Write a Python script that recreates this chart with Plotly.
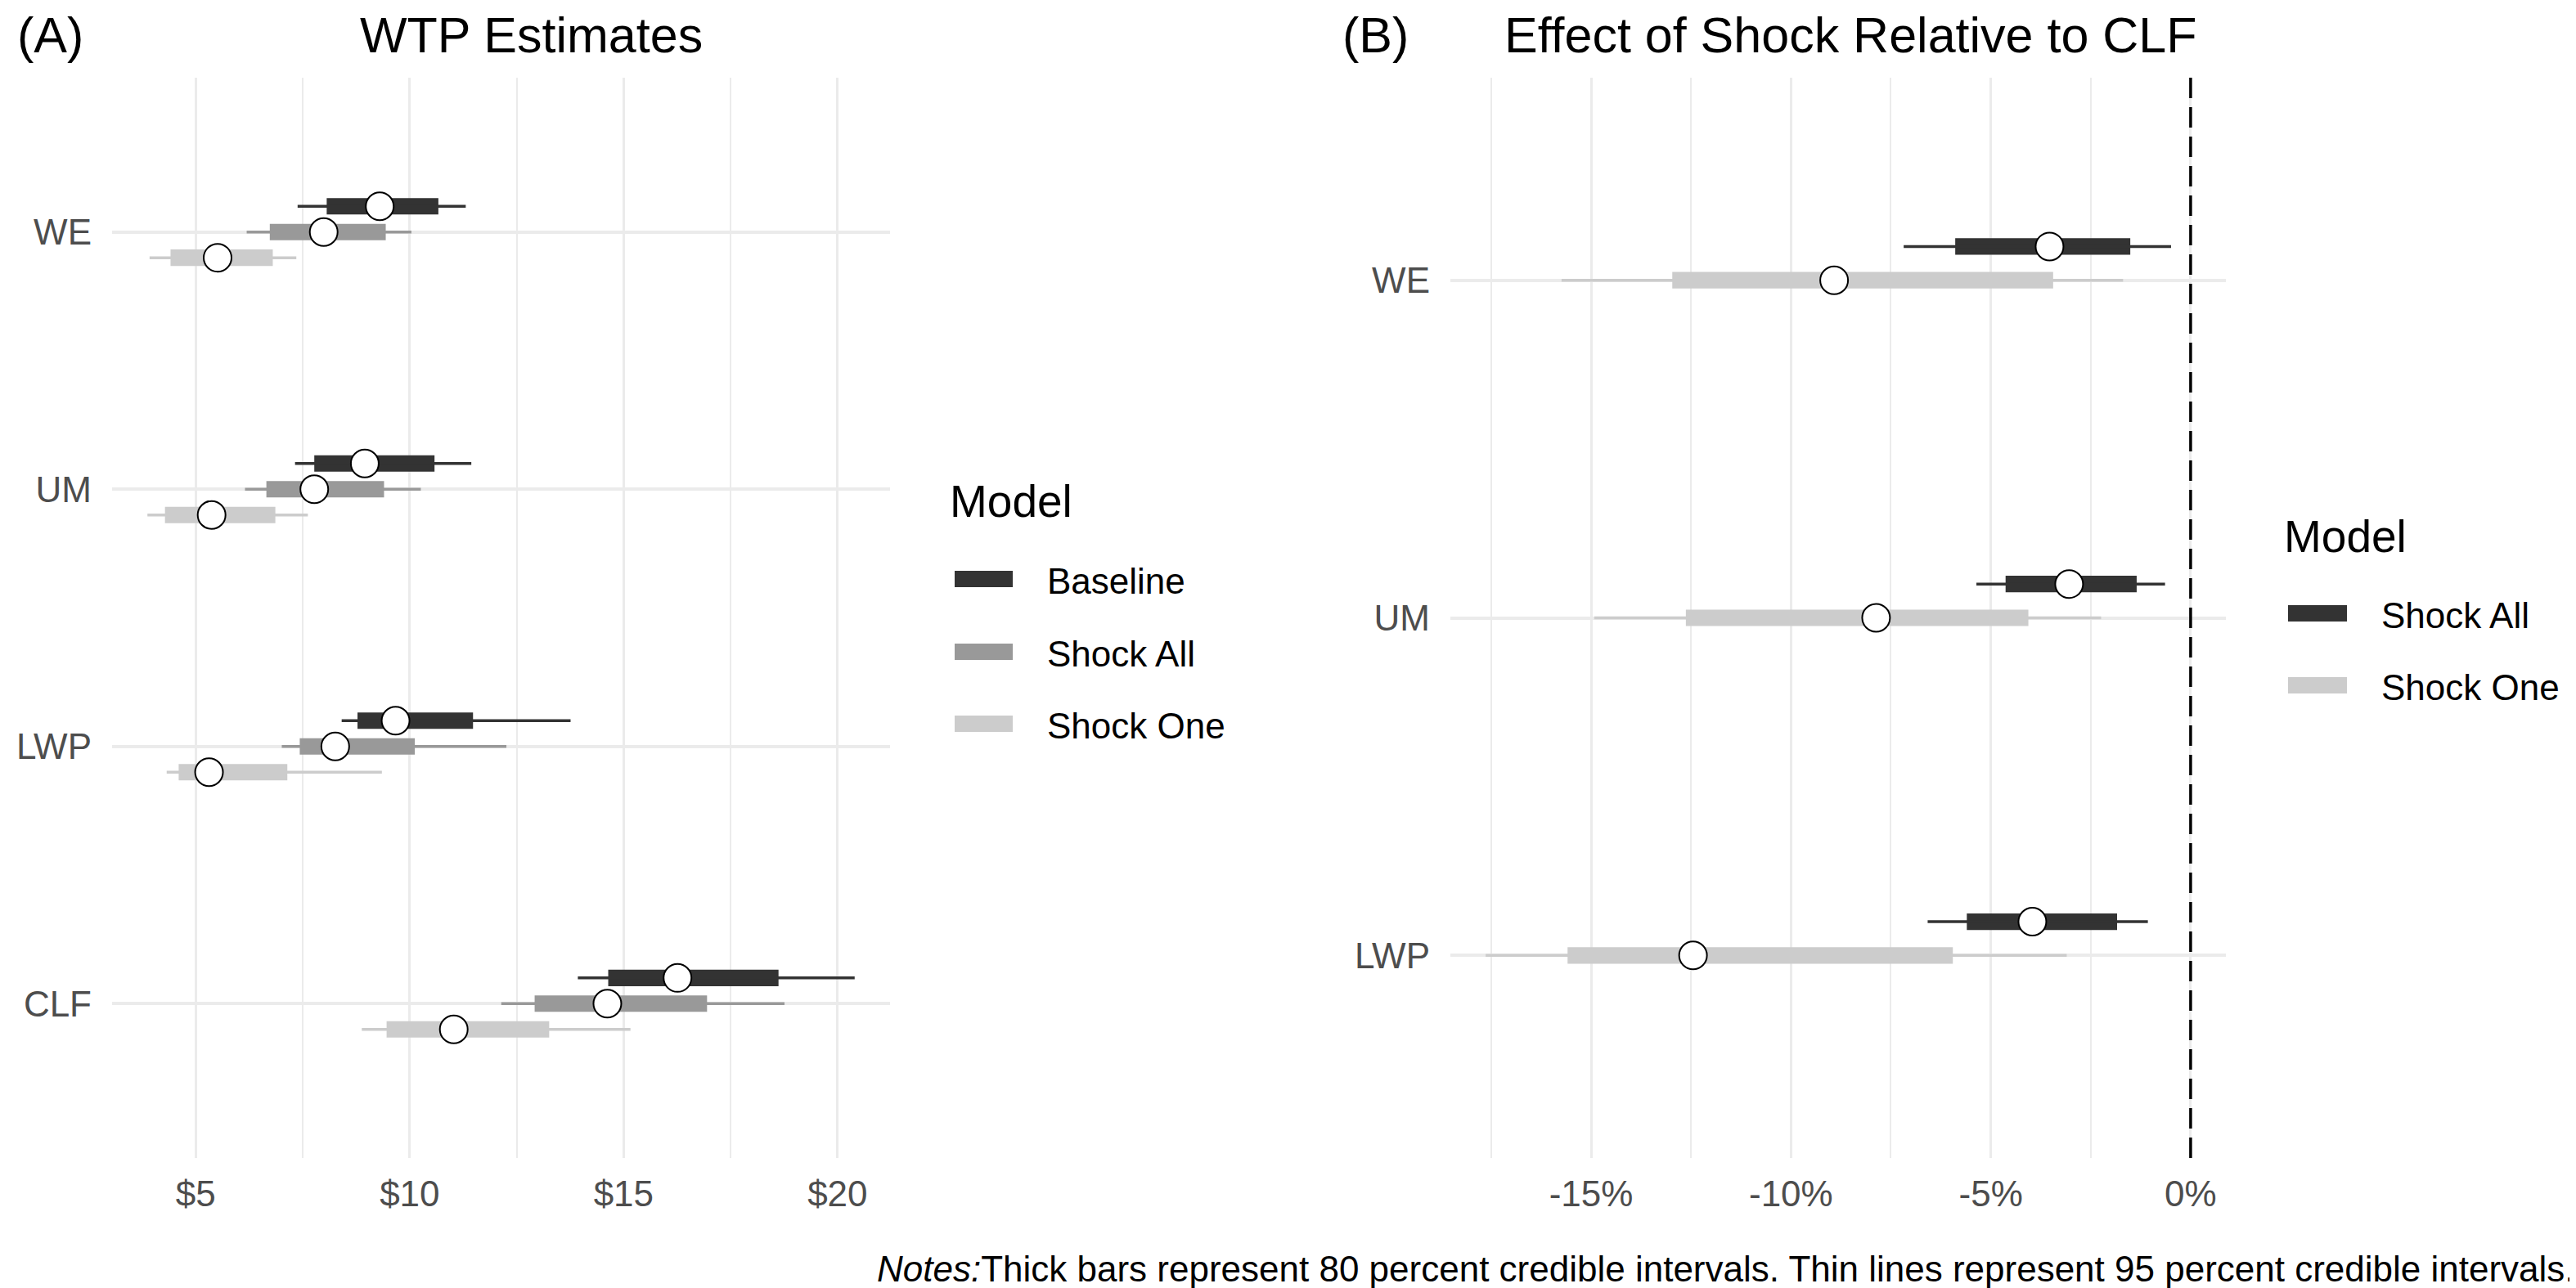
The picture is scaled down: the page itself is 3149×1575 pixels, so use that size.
import plotly.graph_objects as go

# ---------------- data ----------------
# Panel A: WTP estimates ($), rows top to bottom
wtp_cats = ["WE", "UM", "LWP", "CLF"]
wtp_models = ["Baseline", "Shock All", "Shock One"]

base_med = [9.30, 8.95, 9.67, 16.26]
base_lo80 = [8.06, 7.77, 8.78, 14.64]
base_hi80 = [10.67, 10.58, 11.48, 18.62]
base_lo95 = [7.38, 7.32, 8.41, 13.93]
base_hi95 = [11.31, 11.44, 13.76, 20.40]

all_med = [7.99, 7.77, 8.26, 14.62]
all_lo80 = [6.73, 6.65, 7.43, 12.92]
all_hi80 = [9.44, 9.40, 10.12, 16.95]
all_lo95 = [6.19, 6.15, 7.01, 12.14]
all_hi95 = [10.04, 10.26, 12.26, 18.76]

one_med = [5.51, 5.37, 5.31, 11.03]
one_lo80 = [4.41, 4.28, 4.60, 9.46]
one_hi80 = [6.80, 6.86, 7.14, 13.26]
one_lo95 = [3.92, 3.87, 4.32, 8.88]
one_hi95 = [7.35, 7.62, 9.35, 15.16]

wtp_ticks = [5, 10, 15, 20]
wtp_ticktext = ["$5", "$10", "$15", "$20"]

# Panel B: effect of shock relative to CLF (%)
eff_cats = ["WE", "UM", "LWP"]
eff_models = ["Shock All", "Shock One"]

eall_med = [-3.53, -3.04, -3.96]
eall_lo80 = [-5.89, -4.63, -5.60]
eall_hi80 = [-1.51, -1.35, -1.84]
eall_lo95 = [-7.18, -5.36, -6.58]
eall_hi95 = [-0.49, -0.64, -1.07]

eone_med = [-8.92, -7.87, -12.45]
eone_lo80 = [-12.97, -12.63, -15.59]
eone_hi80 = [-3.44, -4.06, -5.95]
eone_lo95 = [-15.74, -14.92, -17.64]
eone_hi95 = [-1.69, -2.24, -3.10]

eff_ticks = [-15, -10, -5, 0]
eff_ticktext = ["-15%", "-10%", "-5%", "0%"]

# ---------------- styling ----------------
W, H = 3149, 1575
COLORS = {"Baseline": "#333333", "Shock All": "#999999", "Shock One": "#CCCCCC"}
COLORS_B = {"Shock All": "#333333", "Shock One": "#CCCCCC"}
FONT = "Liberation Sans, Arial, sans-serif"
GRID = "#EBEBEB"
TICK_COL = "#4D4D4D"


def px(x):
    return x / W


def py(y):
    return 1 - y / H


def expand(vals, extra=None):
    lo, hi = min(vals), max(vals)
    if extra is not None:
        lo, hi = min(lo, extra), max(hi, extra)
    pad = 0.05 * (hi - lo)
    return [lo - pad, hi + pad]


fig = go.Figure()


def add_rows(cats, med, lo80, hi80, lo95, hi95, offset, color, xa, ya, bar_w):
    n = len(cats)
    pos = [n - i + offset for i in range(n)]
    xs, ys = [], []
    for p, a, b in zip(pos, lo95, hi95):
        xs += [a, b, None]
        ys += [p, p, None]
    fig.add_trace(go.Scatter(x=xs, y=ys, mode="lines", xaxis=xa, yaxis=ya,
                             line=dict(color=color, width=3.5), showlegend=False,
                             hoverinfo="skip"))
    fig.add_trace(go.Bar(y=pos, x=[b - a for a, b in zip(lo80, hi80)], base=lo80,
                         orientation="h", width=bar_w, xaxis=xa, yaxis=ya,
                         marker=dict(color=color, line=dict(width=0)),
                         showlegend=False, hoverinfo="skip"))
    fig.add_trace(go.Scatter(x=med, y=pos, mode="markers", xaxis=xa, yaxis=ya,
                             marker=dict(size=34, color="white", symbol="circle",
                                         line=dict(color="black", width=2)),
                             showlegend=False, hoverinfo="skip"))


# panel A: Baseline above, Shock All on the line, Shock One below
add_rows(wtp_cats, base_med, base_lo80, base_hi80, base_lo95, base_hi95, 0.1,
         COLORS["Baseline"], "x", "y", 0.064)
add_rows(wtp_cats, all_med, all_lo80, all_hi80, all_lo95, all_hi95, 0.0,
         COLORS["Shock All"], "x", "y", 0.064)
add_rows(wtp_cats, one_med, one_lo80, one_hi80, one_lo95, one_hi95, -0.1,
         COLORS["Shock One"], "x", "y", 0.064)

# panel B: Shock All above, Shock One on the line
add_rows(eff_cats, eall_med, eall_lo80, eall_hi80, eall_lo95, eall_hi95, 0.1,
         COLORS_B["Shock All"], "x2", "y2", 0.049)
add_rows(eff_cats, eone_med, eone_lo80, eone_hi80, eone_lo95, eone_hi95, 0.0,
         COLORS_B["Shock One"], "x2", "y2", 0.049)

all_a = base_lo95 + base_hi95 + all_lo95 + all_hi95 + one_lo95 + one_hi95
all_b = eall_lo95 + eall_hi95 + eone_lo95 + eone_hi95

ydom = [py(1408), py(87)]
tickfont = dict(family=FONT, size=44, color=TICK_COL)


def mids(ticks):
    step = ticks[1] - ticks[0]
    return [t - step / 2 for t in ticks] + [ticks[-1] + step / 2]


xcommon = dict(showline=False, zeroline=False, ticks="", tickfont=tickfont,
               showgrid=True, gridcolor=GRID, gridwidth=3.2, ticklabelstandoff=14)
ycommon = dict(showline=False, zeroline=False, ticks="", tickfont=tickfont,
               showgrid=True, gridcolor=GRID, gridwidth=3.5, ticklabelstandoff=24)

fig.update_layout(
    width=W, height=H, autosize=False,
    margin=dict(l=0, r=0, t=0, b=0),
    paper_bgcolor="white", plot_bgcolor="white",
    barmode="overlay", showlegend=False,
    font=dict(family=FONT, color="black"),
    xaxis=dict(domain=[px(129), px(1080)], range=expand(all_a), anchor="y",
               tickmode="array", tickvals=wtp_ticks, ticktext=wtp_ticktext,
               minor=dict(tickmode="array", tickvals=mids(wtp_ticks), showgrid=True,
                          gridcolor=GRID, gridwidth=1.6, ticks=""),
               **xcommon),
    yaxis=dict(domain=ydom, range=[0.4, len(wtp_cats) + 0.6], anchor="x",
               tickmode="array", tickvals=[len(wtp_cats) - i for i in range(len(wtp_cats))],
               ticktext=wtp_cats, **ycommon),
    xaxis2=dict(domain=[px(1765), px(2713)], range=expand(all_b, 0), anchor="y2",
                tickmode="array", tickvals=eff_ticks, ticktext=eff_ticktext,
                minor=dict(tickmode="array", tickvals=mids(eff_ticks)[:-1], showgrid=True,
                           gridcolor=GRID, gridwidth=1.6, ticks=""),
                **xcommon),
    yaxis2=dict(domain=ydom, range=[0.4, len(eff_cats) + 0.6], anchor="x2",
                tickmode="array", tickvals=[len(eff_cats) - i for i in range(len(eff_cats))],
                ticktext=eff_cats, **ycommon),
)

# dashed reference line at 0 in panel B
fig.add_shape(type="line", xref="x2", yref="y2 domain", x0=0, x1=0, y0=0, y1=1,
              line=dict(color="black", width=3.5, dash="25px,11px"), layer="above")

# titles and tags
ann = []
ann.append(dict(x=px(641), y=1, text="WTP Estimates", xanchor="center",
                yanchor="top", borderpad=0,
                font=dict(size=61, color="black", family=FONT)))
ann.append(dict(x=px(2254), y=1, text="Effect of Shock Relative to CLF",
                xanchor="center", yanchor="top", borderpad=0,
                font=dict(size=61, color="black", family=FONT)))
ann.append(dict(x=px(12), y=1, text="(A)", xanchor="left", yanchor="top",
                borderpad=0, font=dict(size=61, color="black", family=FONT)))
ann.append(dict(x=px(1632), y=1, text="(B)", xanchor="left", yanchor="top",
                borderpad=0, font=dict(size=61, color="black", family=FONT)))
ann.append(dict(x=px(3142), y=py(1543),
                text="<i>Notes:</i>Thick bars represent 80 percent credible intervals. "
                     "Thin lines represent 95 percent credible intervals.",
                xanchor="right", yanchor="middle",
                font=dict(size=44, color="black", family=FONT)))

# hand-made legends (ggplot style keys)
shapes = []


def legend(x_title, y_title, x_key, key_w, y_keys, models, colors):
    ann.append(dict(x=px(x_title), y=py(y_title), text="Model", xanchor="left",
                    yanchor="middle", font=dict(size=55, color="black", family=FONT)))
    for yk, m in zip(y_keys, models):
        shapes.append(dict(type="rect", xref="paper", yref="paper",
                           x0=px(x_key), x1=px(x_key + key_w),
                           y0=py(yk + 10), y1=py(yk - 10),
                           fillcolor=colors[m], line=dict(width=0)))
        ann.append(dict(x=px(x_key + key_w + 40), y=py(yk + 2), text=m, xanchor="left",
                        yanchor="middle", font=dict(size=44, color="black", family=FONT)))


legend(1151, 605, 1159, 71, [700, 789, 877], wtp_models, COLORS)
legend(2782, 648, 2789, 72, [742, 830], eff_models, COLORS_B)

for a in ann:
    a.update(xref="paper", yref="paper", showarrow=False)
fig.update_layout(annotations=ann)
for s in shapes:
    fig.add_shape(**s)

fig.write_html("out.html")
